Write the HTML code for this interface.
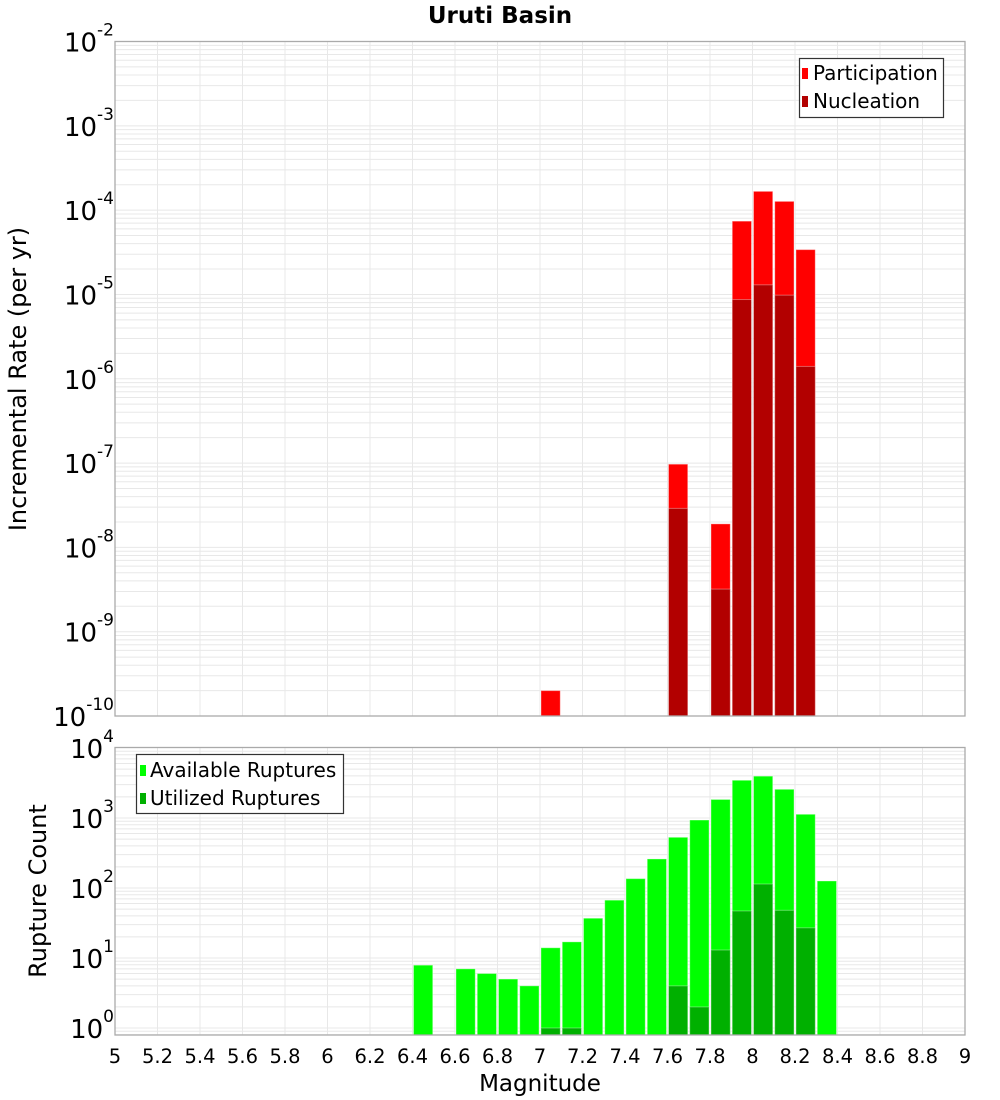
<!DOCTYPE html>
<html><head><meta charset="utf-8"><style>
body{margin:0;background:#fff;}
svg{display:block;font-family:"DejaVu Sans","Liberation Sans",sans-serif;}
</style></head><body>
<svg id="c" width="1000" height="1100" xmlns="http://www.w3.org/2000/svg"></svg>
<script>
const bins = [6.45,6.55,6.65,6.75,6.85,6.95,7.05,7.15,7.25,7.35,7.45,7.55,7.65,7.75,7.85,7.95,8.05,8.15,8.25,8.35];
const participation = [0,0,0,0,0,0,2.0e-10,0,0,0,0,0,9.7e-8,0,1.9e-8,7.4e-5,1.67e-4,1.27e-4,3.4e-5,0];
const nucleation = [0,0,0,0,0,0,0,0,0,0,0,0,2.9e-8,0,3.2e-9,8.7e-6,1.3e-5,9.8e-6,1.4e-6,0];
const available = [7.9,0,7.0,6.0,5.0,4.0,14,17,37,67,136,260,530,935,1840,3460,3960,2570,1130,126];
const utilized = [0,0,0,0,0,0,1,1,0,0,0,0,4,2,13,47,114,48,27,0];
const xTicks = [5,5.2,5.4,5.6,5.8,6,6.2,6.4,6.6,6.8,7,7.2,7.4,7.6,7.8,8,8.2,8.4,8.6,8.8,9];
const topExps = [-2,-3,-4,-5,-6,-7,-8,-9,-10];
const botExps = [4,3,2,1,0];

const NS='http://www.w3.org/2000/svg';
const svg=document.getElementById('c');
function mk(tag,attrs,parent){const e=document.createElementNS(NS,tag);for(const k in attrs)e.setAttribute(k,attrs[k]);(parent||svg).appendChild(e);return e;}
const X0=115,X1=965;
const x=m=>X0+(m-5)/4*(X1-X0);
const T0=41.5,T1=716;
const yTop=v=>T0+(-2-Math.log10(v))*(T1-T0)/8;
const B0=747.5,B1=1035;
const yBot=v=>748+(4-Math.log10(v))*70;

function grid(yFn,lo,hi,top,bot){
  for(let e=lo;e<hi;e++){for(let k=1;k<10;k++){const y=yFn(k*Math.pow(10,e));if(y<top-0.1||y>bot+0.1)continue;
    const l=mk('line',{x1:X0,x2:X1,y1:y,y2:y,stroke:'#e8e8e8','stroke-width':1});
    
    }}
  xTicks.forEach(t=>{const l=mk('line',{x1:x(t),x2:x(t),y1:top,y2:bot,stroke:'#e8e8e8','stroke-width':1});
    
    });
}
grid(yTop,-10,-2,T0,T1);
grid(yBot,-1,4,B0,B1);

function bars(vals,yFn,bottom,fill,name){
  vals.forEach((v,i)=>{if(!v)return;const m=bins[i];const y=Math.max(yFn(v),0);
    const r=mk('rect',{x:x(m-0.05)+1,y:y,width:x(m+0.05)-x(m-0.05)-2,height:bottom-y,fill:fill,stroke:'rgba(255,255,255,0.35)','stroke-width':1});
    
    });
}
bars(participation,yTop,T1,'#ff0000','participation-bar');
bars(nucleation,yTop,T1,'#b20000','nucleation-bar');
bars(available,yBot,B1,'#00ff00','available-bar');
bars(utilized,yBot,B1,'#00b000','utilized-bar');

const f1=mk('rect',{x:X0,y:T0,width:X1-X0,height:T1-T0,fill:'none',stroke:'#aaa','stroke-width':1.3});

const f2=mk('rect',{x:X0,y:B0,width:X1-X0,height:B1-B0,fill:'none',stroke:'#aaa','stroke-width':1.3});


function ylabels(exps,yFn){
  exps.forEach(e=>{const y=yFn(Math.pow(10,e));
    const t=mk('text',{x:114,y:y+10,'text-anchor':'end','font-size':26,fill:'#000'});
    t.textContent='10';
    const s=document.createElementNS(NS,'tspan');s.setAttribute('dy','-16');s.setAttribute('font-size','17');s.textContent=String(e);t.appendChild(s);
    
    });
}
ylabels(topExps,yTop);
ylabels(botExps,yBot);
xTicks.forEach(tk=>{const t=mk('text',{x:x(tk),y:1063,'text-anchor':'middle','font-size':19.5,fill:'#000'});
  t.textContent=String(tk);
  
  });
</script>
<svg style="position:absolute;left:0;top:0" width="1000" height="1100" xmlns="http://www.w3.org/2000/svg" font-family="DejaVu Sans, Liberation Sans, sans-serif">
<text x="500" y="23" text-anchor="middle" font-size="23" font-weight="bold">Uruti Basin</text>
<text x="540" y="1091" text-anchor="middle" font-size="23">Magnitude</text>
<text transform="translate(26,379) rotate(-90)" text-anchor="middle" font-size="24">Incremental Rate (per yr)</text>
<text transform="translate(46,891) rotate(-90)" text-anchor="middle" font-size="24">Rupture Count</text>
<g>
<rect x="799.5" y="58.5" width="144" height="59" fill="#fff" stroke="#333" stroke-width="1.2"/>
<rect x="802" y="68" width="6" height="11" fill="#ff0000"/>
<text x="813" y="80" font-size="20">Participation</text>
<rect x="802" y="96" width="6" height="11" fill="#b20000"/>
<text x="813" y="108" font-size="20">Nucleation</text>
</g>
<g>
<rect x="136.5" y="754.5" width="207" height="59" fill="#fff" stroke="#333" stroke-width="1.2"/>
<rect x="140" y="765" width="6" height="11" fill="#00ff00"/>
<text x="150" y="777" font-size="20">Available Ruptures</text>
<rect x="140" y="793" width="6" height="11" fill="#00b000"/>
<text x="150" y="805" font-size="20">Utilized Ruptures</text>
</g>
</svg>
</body></html>
